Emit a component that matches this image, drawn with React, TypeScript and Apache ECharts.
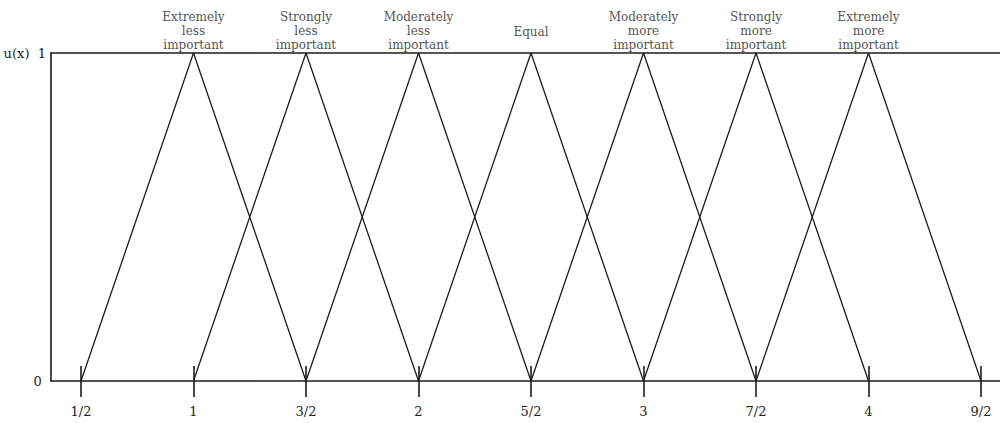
import React, { useEffect, useRef } from "react";
import * as echarts from "echarts";

const peaks = [1, 1.5, 2, 2.5, 3, 3.5, 4];
const leftFeet = [0.5, 1, 1.5, 2, 2.5, 3, 3.5];
const rightFeet = [1.5, 2, 2.5, 3, 3.5, 4, 4.5];
const peakLabels = [
  "Extremely\nless\nimportant",
  "Strongly\nless\nimportant",
  "Moderately\nless\nimportant",
  "Equal",
  "Moderately\nmore\nimportant",
  "Strongly\nmore\nimportant",
  "Extremely\nmore\nimportant",
];
const tickValues = [0.5, 1, 1.5, 2, 2.5, 3, 3.5, 4, 4.5];
const tickLabels = ["1/2", "1", "3/2", "2", "5/2", "3", "7/2", "4", "9/2"];
const X_MIN = 0.3667;
const X_MAX = 4.5844;

const INK = "#1c1c1c";
const SERIF = "'DejaVu Serif', 'Liberation Serif', serif";

export default function App() {
  const ref = useRef<HTMLDivElement>(null);
  useEffect(() => {
    if (!ref.current) return;
    const chart = echarts.init(ref.current, null, { renderer: "svg" });
    const triangleSeries = peaks.map((p, i) => ({
      type: "line",
      name: peakLabels[i],
      xAxisIndex: 0,
      data: [
        [leftFeet[i], 0],
        [p, 1],
        [rightFeet[i], 0],
      ],
      showSymbol: false,
      symbol: "none",
      lineStyle: { color: INK, width: 1.3 },
      silent: true,
      z: 3,
    }));
    const labelSeries = {
      type: "scatter",
      xAxisIndex: 0,
      symbolSize: 0,
      silent: true,
      data: peaks.map((p, i) => ({
        name: peakLabels[i],
        value: [p, 1],
        label:
          peakLabels[i].indexOf("\n") < 0
            ? { distance: 14 }
            : { distance: 1 },
      })),
      label: {
        show: true,
        position: "top",
        formatter: (pr: any) => pr.name,
        color: INK,
        fontFamily: SERIF,
        fontSize: 12,
        lineHeight: 14,
        align: "center",
      },
    };
    const fmt = (v: number) => {
      const idx = tickValues.findIndex((t) => Math.abs(t - v) < 1e-6);
      return idx >= 0 ? tickLabels[idx] : "";
    };
    chart.setOption({
      animation: false,
      grid: { left: 51, right: 0, top: 53, bottom: 42, containLabel: false },
      xAxis: [
        {
          type: "value",
          min: X_MIN,
          max: X_MAX,
          position: "bottom",
          axisLine: { show: true, lineStyle: { color: INK, width: 1.6 } },
          axisTick: {
            show: true,
            inside: false,
            length: 16,
            customValues: tickValues,
            lineStyle: { color: INK, width: 1.6 },
          },
          axisLabel: {
            show: true,
            customValues: tickValues,
            formatter: fmt,
            margin: 24,
            color: INK,
            fontFamily: SERIF,
            fontSize: 13,
          },
          splitLine: { show: false },
        },
        {
          type: "value",
          min: X_MIN,
          max: X_MAX,
          position: "bottom",
          axisLine: { show: false },
          axisTick: {
            show: true,
            inside: true,
            length: 15,
            customValues: tickValues,
            lineStyle: { color: INK, width: 1.6 },
          },
          axisLabel: { show: false },
          splitLine: { show: false },
        },
        {
          type: "value",
          min: X_MIN,
          max: X_MAX,
          position: "top",
          axisLine: { show: true, lineStyle: { color: INK, width: 1.6 } },
          axisTick: { show: false },
          axisLabel: { show: false },
          splitLine: { show: false },
        },
      ],
      yAxis: {
        type: "value",
        min: 0,
        max: 1,
        interval: 1,
        axisLine: { show: true, lineStyle: { color: INK, width: 1.6 } },
        axisTick: { show: false },
        axisLabel: {
          show: true,
          margin: 5,
          color: INK,
          fontFamily: SERIF,
          fontSize: 13,
          formatter: (v: number) => (v === 1 ? "u(x)  1" : v === 0 ? "0 " : ""),
        },
        splitLine: { show: false },
      },
      series: [...triangleSeries, labelSeries],
    });
    return () => chart.dispose();
  }, []);
  return (
    <div
      ref={ref}
      style={{ position: "fixed", left: 0, top: 0, width: 1000, height: 423, background: "#fff" }}
    />
  );
}
